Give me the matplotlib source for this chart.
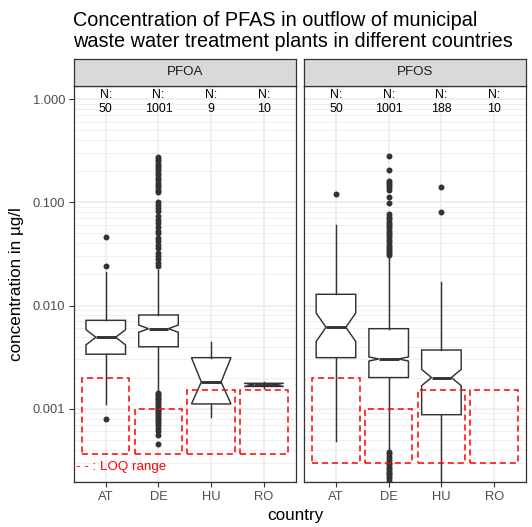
import numpy as np
import matplotlib.pyplot as plt
from matplotlib.patches import Rectangle
from matplotlib.ticker import LogLocator, FixedLocator, FixedFormatter, NullFormatter

plt.rcParams['font.family'] = ['Liberation Sans', 'DejaVu Sans']

countries = ['AT', 'DE', 'HU', 'RO']
n_pfoa = [50, 1001, 9, 10]
n_pfos = [50, 1001, 188, 10]

# box statistics in µg/l (one entry per country)
pfoa_lo = [0.0011, 0.00145, 0.00082, 0.0016]
pfoa_q1 = [0.00337, 0.00398, 0.00111, 0.00164]
pfoa_med = [0.00492, 0.00596, 0.00181, 0.0017]
pfoa_q3 = [0.00718, 0.00809, 0.00312, 0.00176]
pfoa_hi = [0.0213, 0.022, 0.00446, 0.00183]
pfoa_cilo = [0.00415, 0.0055, 0.00111, 0.00164]
pfoa_cihi = [0.00583, 0.00646, 0.00312, 0.00176]
pfoa_fliers = [
    [0.0462, 0.0242, 0.00079],
    [0.275, 0.262, 0.25, 0.238, 0.226, 0.215, 0.204, 0.194, 0.184, 0.174,
     0.165, 0.156, 0.148, 0.14, 0.132, 0.125, 0.101, 0.095, 0.088, 0.082,
     0.074, 0.068, 0.063, 0.058, 0.053, 0.05, 0.045, 0.042, 0.039, 0.036,
     0.032, 0.03, 0.028, 0.026, 0.024,
     0.00142, 0.00138, 0.00133, 0.00128, 0.00124, 0.0012, 0.00115, 0.0011,
     0.00106, 0.00102, 0.00098, 0.00094, 0.0009, 0.00086, 0.00082, 0.00079,
     0.00075, 0.00072, 0.00069, 0.00065, 0.0006, 0.00055, 0.00045],
    [],
    [],
]

pfos_lo = [0.00048, 0.0004, 0.00015]
pfos_q1 = [0.00312, 0.002, 0.000873]
pfos_med = [0.00615, 0.00303, 0.002]
pfos_q3 = [0.01285, 0.00596, 0.0037]
pfos_hi = [0.0604, 0.0307, 0.0168]
pfos_cilo = [0.00448, 0.00289, 0.00167]
pfos_cihi = [0.00845, 0.00317, 0.0024]
pfos_fliers = [
    [0.1207],
    [0.282, 0.206, 0.162, 0.155, 0.147, 0.14, 0.132, 0.113, 0.099,
     0.077, 0.073, 0.069, 0.065, 0.062, 0.059, 0.056, 0.053, 0.05, 0.048,
     0.046, 0.043, 0.041, 0.039, 0.037, 0.035, 0.034, 0.032, 0.031,
     0.00038, 0.00036, 0.00034, 0.00032, 0.0003, 0.00029, 0.00027, 0.00026,
     0.00025, 0.00024, 0.00023, 0.00022, 0.00021, 0.0002, 0.00019, 0.00018],
    [0.14, 0.0813],
]

# LOQ ranges
loq_top_pfoa = [0.002, 0.001, 0.0015, 0.0015]
loq_low_pfoa = 0.00036
loq_top_pfos = [0.002, 0.001, 0.0015, 0.0015]
loq_low_pfos = 0.0003

W, H = 532, 527
fig = plt.figure(figsize=(W / 100, H / 100), dpi=100)

def px(x0, y0, x1, y1):
    return [x0 / W, 1 - y1 / H, (x1 - x0) / W, (y1 - y0) / H]

panels = [
    ('PFOA', 74.1, n_pfoa, pfoa_lo, pfoa_q1, pfoa_med, pfoa_q3, pfoa_hi,
     pfoa_cilo, pfoa_cihi, pfoa_fliers, loq_top_pfoa, loq_low_pfoa),
    ('PFOS', 304.3, n_pfos, pfos_lo, pfos_q1, pfos_med, pfos_q3, pfos_hi,
     pfos_cilo, pfos_cihi, pfos_fliers, loq_top_pfos, loq_low_pfos),
]

grey20 = '#333333'
ylim = (10 ** -3.709, 10 ** 0.134)

for i, (name, x0, ns, lo, q1, med, q3, hi, cilo, cihi, fl, loq_top, loq_low) in enumerate(panels):
    ax = fig.add_axes(px(x0, 85.5, x0 + 221.5, 481.7))
    ax.set_yscale('log')
    ax.set_xlim(-0.6, 3.6)
    ax.set_ylim(*ylim)

    stats = []
    for j in range(len(med)):
        stats.append(dict(whislo=lo[j], q1=q1[j], med=med[j], q3=q3[j],
                          whishi=hi[j], cilo=cilo[j], cihi=cihi[j], fliers=fl[j]))
    ax.bxp(stats, positions=range(len(med)), widths=0.75, shownotches=True,
           showcaps=False, patch_artist=True,
           boxprops=dict(facecolor='white', edgecolor=grey20, linewidth=1.05),
           whiskerprops=dict(color=grey20, linewidth=1.05),
           medianprops=dict(color=grey20, linewidth=2.1),
           flierprops=dict(marker='o', markersize=4.3, markerfacecolor=grey20,
                           markeredgewidth=0, alpha=1))

    for j, top in enumerate(loq_top):
        ax.add_patch(Rectangle((j - 0.45, loq_low), 0.9, top - loq_low, fill=False,
                               edgecolor='red', linestyle=(0, (4, 2.5)), linewidth=1.1,
                               zorder=4))

    for j, n in enumerate(ns):
        ax.text(j, 0.94, 'N:\n%d' % n, ha='center', va='center', fontsize=8.9,
                color='black', linespacing=1.3)

    ax.xaxis.set_major_locator(FixedLocator(range(4)))
    ax.set_xticklabels(countries)
    ax.yaxis.set_major_locator(FixedLocator([0.001, 0.01, 0.1, 1.0]))
    ax.yaxis.set_major_formatter(FixedFormatter(['0.001', '0.010', '0.100', '1.000']))
    ax.yaxis.set_minor_locator(LogLocator(base=10, subs=np.arange(2, 10), numticks=20))
    ax.yaxis.set_minor_formatter(NullFormatter())
    ax.grid(which='major', color='#EBEBEB', linewidth=1.1)
    ax.grid(which='minor', axis='y', color='#EBEBEB', linewidth=0.55)
    ax.set_axisbelow(True)
    ax.tick_params(which='major', length=3.5, width=0.8, color=grey20,
                   labelcolor='#4D4D4D', labelsize=9.3, pad=3)
    ax.tick_params(which='minor', length=0)
    if i == 1:
        ax.tick_params(axis='y', which='both', left=False, labelleft=False)
    else:
        ax.text(-0.57, 10 ** -3.565, '- - : LOQ range', color='red', fontsize=9.6,
                ha='left', va='center')
    for s in ax.spines.values():
        s.set_color(grey20)
        s.set_linewidth(0.9)

    strip = fig.add_axes(px(x0, 59, x0 + 221.5, 85.5))
    strip.set_facecolor('#D9D9D9')
    strip.set_xticks([])
    strip.set_yticks([])
    for s in strip.spines.values():
        s.set_color(grey20)
        s.set_linewidth(0.9)
    strip.text(0.5, 0.5, name, ha='center', va='center', fontsize=9.6,
               color='#1A1A1A', transform=strip.transAxes)

fig.text(72.7 / W, 1 - 46.7 / H,
         'Concentration of PFAS in outflow of municipal\n'
         'waste water treatment plants in different countries',
         ha='left', va='baseline', fontsize=14.3, linespacing=1.13)
fig.text(17 / W, 1 - 284 / H, 'concentration in µg/l', rotation=90,
         ha='center', va='center', fontsize=12.3)
fig.text(295 / W, 1 - 515.5 / H, 'country', ha='center', va='center', fontsize=12.3)

fig.savefig('out.png', dpi=100)
